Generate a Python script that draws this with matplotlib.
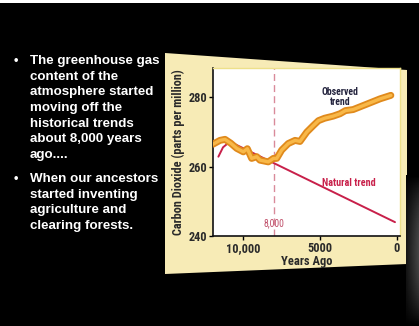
import numpy as np
import matplotlib
matplotlib.use("Agg")
import matplotlib.pyplot as plt
from matplotlib import font_manager
from matplotlib.patches import Polygon, Rectangle
import matplotlib.patheffects as pe

# data
natural_years = [11600, 11300, 11000, 10750, 130]
natural_co2 = [262.9, 265.6, 266.7, 267.0, 244.0]

observed_years = [11950, 11500, 11170, 10800, 10410, 9980, 9720, 9440, 9110, 8900,
                  8360, 8030, 7810, 7490, 7060, 6620, 6300, 5860, 5430, 5100,
                  4700, 4150, 3700, 3350, 2850, 2000, 1100, 400]
observed_co2 = [266.5, 267.6, 267.9, 266.8, 265.3, 264.3, 265.2, 262.4, 262.9, 261.9,
                261.4, 262.4, 262.4, 264.8, 266.7, 267.6, 267.3, 270.0, 271.9, 273.3,
                274.0, 274.6, 275.3, 276.2, 276.5, 278.0, 279.6, 280.6]

x_ticks = [10000, 5000, 0]
x_ticklabels = ["10,000", "5000", "0"]
y_ticks = [240, 260, 280]

bullets = [
    "The greenhouse gas\ncontent of the\natmosphere started\nmoving off the\nhistorical trends\nabout 8,000 years\nago....",
    "When our ancestors\nstarted inventing\nagriculture and\nclearing forests.",
]

W, H = 419, 326

# pick a narrow face for the chart labels if one is there
names = {f.name for f in font_manager.fontManager.ttflist}
narrow = next((n for n in ["Liberation Sans Narrow", "Roboto Condensed", "Open Sans Condensed"]
               if n in names), "Liberation Sans")


def fx(px):
    return px / W


def fy(py):
    return 1 - py / H


fig = plt.figure(figsize=(W / 100, H / 100), dpi=100, facecolor="black")

# thin white strip at the very top
fig.patches.append(Rectangle((0, fy(3)), 1, 3 / H, transform=fig.transFigure,
                             facecolor="white", edgecolor="none", zorder=0))

# cream panel behind the chart
panel = [(165, 53), (407, 70), (407, 264), (165, 274)]
fig.patches.append(Polygon([(fx(x), fy(y)) for x, y in panel], closed=True,
                           transform=fig.transFigure, facecolor="#f7ebb6",
                           edgecolor="none", zorder=0))

# grey shading on the right edge
shade = fig.add_axes([fx(406), 0, fx(13), (H - 175) / H])
shade.set_zorder(1)
gy = np.linspace(0, 1, 60)[:, None]
gx = np.linspace(0, 1, 20)[None, :]
shade.imshow(np.sin(np.pi * gy) ** 0.8 * (0.3 + 0.7 * gx) * 70, cmap="gray",
             vmin=0, vmax=255, aspect="auto", origin="upper", extent=[0, 1, 0, 1])
shade.axis("off")

# bullet text on the left
tops = [55, 173]
for top, txt in zip(tops, bullets):
    fig.text(fx(14), fy(top), "\u2022", color="white", fontsize=9, fontweight="bold",
             family="Liberation Sans", va="top")
    fig.text(fx(30), fy(top), txt, color="white", fontsize=9.6, fontweight="bold",
             family="Liberation Sans", va="top", linespacing=1.41)

ax = fig.add_axes([fx(213), fy(236), fx(400) - fx(213), fy(68) - fy(236)])
ax.set_zorder(3)
ax.set_facecolor("white")
ax.set_xlim(11950, -195)
ax.set_ylim(240, 288.5)

ax.plot(natural_years, natural_co2, color="#c8204a", lw=1.4, zorder=2,
        solid_capstyle="round")
ax.plot(observed_years, observed_co2, color="#f8b848", lw=2.4, zorder=3,
        solid_joinstyle="round", solid_capstyle="round",
        path_effects=[pe.Stroke(linewidth=5.0, foreground="#e08a1c"), pe.Normal()])
ax.axvline(8000, color="#d98a9a", lw=1.0, ls=(0, (5, 3)), zorder=1)

ax.text(8000, 243.6, "8,000", color="#c0506a", fontsize=7, ha="center", va="center",
        family=narrow)
ax.text(3700, 280.2, "Observed\ntrend", color="#23233d", fontsize=7, fontweight="bold",
        ha="center", va="center", family=narrow, linespacing=1.05)
ax.text(3150, 255.4, "Natural trend", color="#c8204a", fontsize=7.3, fontweight="bold",
        ha="center", va="center", family=narrow)

ax.set_xticks(x_ticks)
ax.set_xticklabels(x_ticklabels)
ax.set_yticks(y_ticks)
for lab in ax.get_xticklabels() + ax.get_yticklabels():
    lab.set_fontfamily(narrow)
    lab.set_fontweight("bold")
    lab.set_fontsize(8.8)
    lab.set_color("#2a2a2a")
ax.tick_params(length=3, width=1, direction="out", pad=1.5)

for s in ["left", "bottom"]:
    ax.spines[s].set_color("#111111")
    ax.spines[s].set_linewidth(1.2)
for s in ["top", "right"]:
    ax.spines[s].set_color("#ede08a")
    ax.spines[s].set_linewidth(1.0)

ax.set_xlabel("Years Ago", fontsize=9, fontweight="bold", family=narrow,
              color="#2a2a2a", labelpad=0)
ax.set_ylabel("Carbon Dioxide (parts per million)", fontsize=8.8, fontweight="bold",
              family=narrow, color="#2a2a2a", labelpad=2)

fig.savefig("out.png", dpi=100, facecolor="black")
